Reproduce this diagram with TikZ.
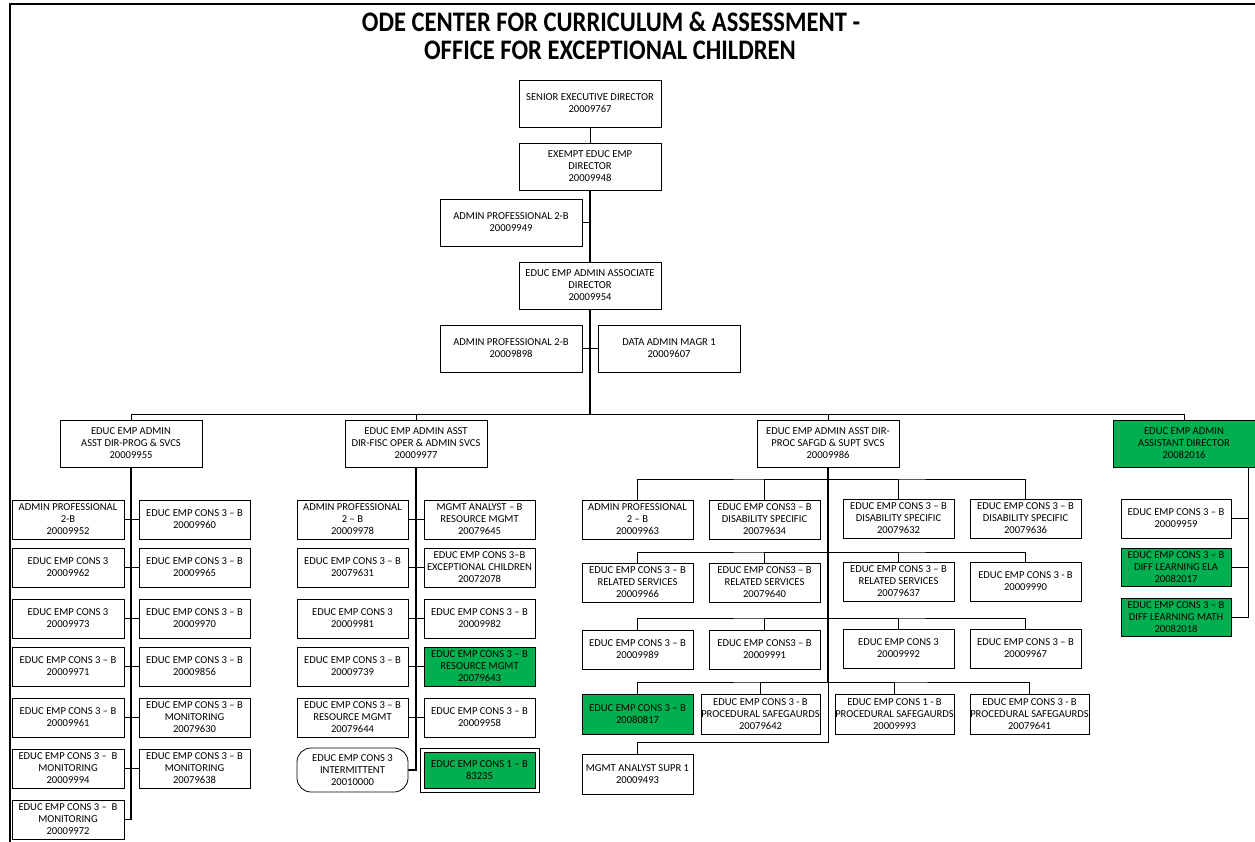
\documentclass[tikz,border=0pt]{standalone}
\usepackage{fontspec}
\usepackage{graphicx}
\setmainfont{Carlito}
\usetikzlibrary{backgrounds}
\definecolor{xlgreen}{HTML}{00B050}
\newcommand\ob[7][]{%
  \pgfmathsetmacro\obW{#5-#3}\pgfmathsetmacro\obH{#6-#4}%
  \node[bx,minimum width=\obW pt,minimum height=\obH pt,#1] (#2) at ({(#3+#5)/2},{(#4+#6)/2}) {#7};}
\begin{document}
\begin{tikzpicture}[x=1pt,y=-1pt,
  bx/.style={draw=black,line width=0.8pt,fill=white,inner sep=0pt,align=center,
    font=\fontsize{10.6}{12}\selectfont},
  grn/.style={fill=xlgreen},
  ln/.style={line width=0.8pt},
  trunk/.style={line width=1.8pt},
  mid/.style={line width=1.1pt},
  ttl/.style={font=\bfseries\fontsize{24.6}{28}\selectfont,inner sep=0pt}]
\useasboundingbox (0,0) rectangle (1255,842);
\draw[line width=1.5pt] (10,842) -- (10,4) coordinate (fr) -- (1255,4);
\node[ttl] (t1) at (611,22) {\scalebox{1}[1.15]{ODE CENTER FOR CURRICULUM \& ASSESSMENT -}};
\node[ttl] (t2) at (610,50) {\scalebox{1}[1.15]{OFFICE FOR EXCEPTIONAL CHILDREN}};
% top chain
\ob{sed}{519}{80}{661}{127}{SENIOR EXECUTIVE DIRECTOR\\20009767}
\ob{exe}{519}{143}{661}{190}{EXEMPT EDUC EMP\\DIRECTOR\\20009948}
\ob{apa}{440}{199}{582}{246}{ADMIN PROFESSIONAL 2-B\\20009949}
\ob{aso}{519}{262}{661}{309}{EDUC EMP ADMIN ASSOCIATE\\DIRECTOR\\20009954}
\ob{apb}{440}{325}{582}{372}{ADMIN PROFESSIONAL 2-B\\20009898}
\ob{dam}{598}{325}{740}{372}{DATA ADMIN MAGR 1\\20009607}
% level 2
\ob{prog}{60}{420}{202}{467}{EDUC EMP ADMIN\\ASST DIR-PROG \& SVCS\\20009955}
\ob{fisc}{345}{420}{487}{467}{EDUC EMP ADMIN ASST\\DIR-FISC OPER \& ADMIN SVCS\\20009977}
\ob{proc}{757}{420}{899}{467}{EDUC EMP ADMIN ASST DIR-\\PROC SAFGD \& SUPT SVCS\\20009986}
\ob[grn]{asst}{1113}{420}{1255}{467}{EDUC EMP ADMIN\\ASSISTANT DIRECTOR\\20082016}
% left section
\ob{la1}{12}{500}{124}{539}{ADMIN PROFESSIONAL\\2-B\\20009952}
\ob{lb1}{139}{500}{250}{539}{EDUC EMP CONS 3 – B\\20009960}
\ob{la2}{12}{548}{124}{587}{EDUC EMP CONS 3\\20009962}
\ob{lb2}{139}{548}{250}{587}{EDUC EMP CONS 3 – B\\20009965}
\ob{la3}{12}{599}{124}{638}{EDUC EMP CONS 3\\20009973}
\ob{lb3}{139}{599}{250}{638}{EDUC EMP CONS 3 – B\\20009970}
\ob{la4}{12}{647}{124}{686}{EDUC EMP CONS 3 – B\\20009971}
\ob{lb4}{139}{647}{250}{686}{EDUC EMP CONS 3 – B\\20009856}
\ob{la5}{12}{698}{124}{737}{EDUC EMP CONS 3 – B\\20009961}
\ob{lb5}{139}{698}{250}{737}{EDUC EMP CONS 3 – B\\MONITORING\\20079630}
\ob{la6}{12}{749}{124}{788}{EDUC EMP CONS 3 –\ \ B\\MONITORING\\20009994}
\ob{lb6}{139}{749}{250}{788}{EDUC EMP CONS 3 – B\\MONITORING\\20079638}
\ob{la7}{12}{800}{124}{839}{EDUC EMP CONS 3 –\ \ B\\MONITORING\\20009972}
% fisc section
\ob{fa1}{297}{500}{408}{539}{ADMIN PROFESSIONAL\\2 – B\\20009978}
\ob{fb1}{424}{500}{535}{539}{MGMT ANALYST – B\\RESOURCE MGMT\\20079645}
\ob{fa2}{297}{548}{408}{587}{EDUC EMP CONS 3 – B\\20079631}
\ob{fb2}{424}{548}{535}{587}{EDUC EMP CONS 3–B\\EXCEPTIONAL CHILDREN\\20072078}
\ob{fa3}{297}{599}{408}{638}{EDUC EMP CONS 3\\20009981}
\ob{fb3}{424}{599}{535}{638}{EDUC EMP CONS 3 – B\\20009982}
\ob{fa4}{297}{647}{408}{686}{EDUC EMP CONS 3 – B\\20009739}
\ob[grn]{fb4}{424}{647}{535}{686}{EDUC EMP CONS 3 – B\\RESOURCE MGMT\\20079643}
\ob{fa5}{297}{698}{408}{737}{EDUC EMP CONS 3 – B\\RESOURCE MGMT\\20079644}
\ob{fb5}{424}{698}{535}{737}{EDUC EMP CONS 3 – B\\20009958}
\ob[rounded corners=14pt]{fa6}{297}{748}{408}{792}{EDUC EMP CONS 3\\INTERMITTENT\\20010000}
\ob{fb6frame}{420}{748}{539}{792}{}
\ob[grn]{fb6}{424}{752}{535}{788}{EDUC EMP CONS 1 – B\\83235}
% proc section
\ob{pa1}{582}{500}{693}{539}{ADMIN PROFESSIONAL\\2 – B\\20009963}
\ob{pb1}{709}{500}{820}{539}{EDUC EMP CONS3 – B\\DISABILITY SPECIFIC\\20079634}
\ob{pc1}{843}{499}{954}{538}{EDUC EMP CONS 3 – B\\DISABILITY SPECIFIC\\20079632}
\ob{pd1}{970}{499}{1081}{538}{EDUC EMP CONS 3 – B\\DISABILITY SPECIFIC\\20079636}
\ob{pa2}{582}{563}{693}{602}{EDUC EMP CONS 3 – B\\RELATED SERVICES\\20009966}
\ob{pb2}{709}{563}{820}{602}{EDUC EMP CONS3 – B\\RELATED SERVICES\\20079640}
\ob{pc2}{843}{562}{954}{601}{EDUC EMP CONS 3 – B\\RELATED SERVICES\\20079637}
\ob{pd2}{970}{562}{1081}{601}{EDUC EMP CONS 3 - B\\20009990}
\ob{pa3}{582}{630}{693}{669}{EDUC EMP CONS 3 – B\\20009989}
\ob{pb3}{709}{630}{820}{669}{EDUC EMP CONS3 – B\\20009991}
\ob{pc3}{843}{629}{954}{668}{EDUC EMP CONS 3\\20009992}
\ob{pd3}{970}{629}{1081}{668}{EDUC EMP CONS 3 – B\\20009967}
\ob[grn]{pa4}{582}{694}{693}{734}{EDUC EMP CONS 3 – B\\20080817}
\ob{pb4}{701}{694}{820}{734}{EDUC EMP CONS 3 - B\\PROCEDURAL SAFEGAURDS\\20079642}
\ob{pc4}{835}{694}{954}{734}{EDUC EMP CONS 1 - B\\PROCEDURAL SAFEGAURDS\\20009993}
\ob{pd4}{970}{694}{1089}{734}{EDUC EMP CONS 3 - B\\PROCEDURAL SAFEGAURDS\\20079641}
\ob{pa5}{582}{754}{693}{794}{MGMT ANALYST SUPR 1\\20009493}
% right section
\ob{r1}{1121}{499}{1231}{538}{EDUC EMP CONS 3 – B\\20009959}
\ob[grn]{r2}{1121}{548}{1231}{586}{EDUC EMP CONS 3 – B\\DIFF LEARNING ELA\\20082017}
\ob[grn]{r3}{1121}{598}{1231}{636}{EDUC EMP CONS 3 – B\\DIFF LEARNING MATH\\20082018}
% coordinates
\coordinate (bus) at (590,414);
\coordinate (pbus1) at (828,479);
\coordinate (pbus2) at (828,552);
\coordinate (pbus3) at (828,618);
\coordinate (pbus4) at (828,682);
\coordinate (pelb) at (828,742);
\coordinate (rtop) at (1248,467);
\begin{scope}[on background layer]
 \draw[ln] (sed.south) -- (exe.north);
 \draw[mid] (exe.south) -- (aso.north);
 \draw[ln] (apa.east) -- (apa.east -| exe.south);
 \draw[trunk] (aso.south) -- (bus);
 \draw[ln] (apb.east) -- (dam.west);
 \draw[ln] (prog.north) |- (bus);
 \draw[ln] (fisc.north) |- (bus);
 \draw[ln] (proc.north) |- (bus);
 \draw[ln] (asst.north) |- (bus);
 % left
 \draw[trunk] (prog.south) |- (la7.east);
 \foreach \i in {1,...,6} \draw[ln] (la\i.east) -- (lb\i.west);
 % fisc
 \draw[trunk] (fisc.south) |- (fa6.east);
 \foreach \i in {1,...,5} \draw[ln] (fa\i.east) -- (fb\i.west);
 % proc
 \draw[trunk] (proc.south) -- (pbus4);
 \draw[ln] (pbus4) -- (pelb) -| (pa5.north);
 \foreach \k in {1,2,3,4} {
   \draw[ln] (pa\k.north) |- (pbus\k) -| (pd\k.north);
   \draw[ln] (pb\k.north) |- (pbus\k);
   \draw[ln] (pc\k.north) |- (pbus\k);
 }
 % right
 \draw[ln] (rtop) |- (r3.east);
 \draw[ln] (r1.east) -- (r1.east -| rtop);
 \draw[ln] (r2.east) -- (r2.east -| rtop);
\end{scope}
\end{tikzpicture}
\end{document}
